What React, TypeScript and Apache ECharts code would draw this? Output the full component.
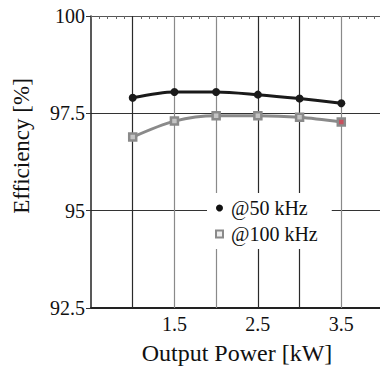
import React, { useEffect, useRef } from "react";
import * as echarts from "echarts";

const powerKW = [1.0, 1.5, 2.0, 2.5, 3.0, 3.5];
const eff50k = [97.9, 98.05, 98.05, 97.98, 97.88, 97.76];
const eff100k = [96.89, 97.3, 97.44, 97.44, 97.4, 97.28];
const xTickLabels = ["1.5", "2.5", "3.5"];
const xGridValues = [1.0, 1.5, 2.0, 2.5, 3.0, 3.5];
const seriesNames = ["@50 kHz", "@100 kHz"];

const FONT = "'Liberation Serif', 'Times New Roman', serif";

export default function App() {
  const ref = useRef<HTMLDivElement>(null);
  useEffect(() => {
    const chart = echarts.init(ref.current!, null, { renderer: "svg" });
    const dark = "#2a2a2a";
    const grey = "#8a8a8a";
    const gridColors = [dark, grey, grey, dark, dark, grey];
    chart.setOption({
      animation: false,
      backgroundColor: "#ffffff",
      textStyle: { fontFamily: FONT },
      grid: { left: 91, top: 16, right: -3, bottom: 61, containLabel: false, outerBoundsMode: "none" },
      legend: {
        orient: "vertical",
        left: 207,
        top: 193,
        padding: [5, 14, 5, 8],
        backgroundColor: "#ffffff",
        itemWidth: 7,
        itemHeight: 7,
        itemGap: 6,
        textStyle: { fontFamily: FONT, fontSize: 20, color: "#111", lineHeight: 20, padding: [0, 0, 0, 3] },
        data: [
          { name: seriesNames[0], icon: "circle", itemStyle: { color: "#111", borderWidth: 0 } },
          { name: seriesNames[1], icon: "rect", itemStyle: { color: "#eeeeee", borderColor: grey, borderWidth: 2 } },
        ],
      },
      xAxis: [
        {
          type: "value",
          min: 0.5,
          max: 4,
          interval: 0.5,
          position: "bottom",
          name: "Output Power [kW]",
          nameLocation: "middle",
          nameGap: 33,
          nameTextStyle: { fontFamily: FONT, fontSize: 24, color: "#111", lineHeight: 24 },
          axisLine: { show: true, lineStyle: { color: "#222", width: 2 } },
          axisTick: { show: false },
          axisLabel: {
            fontFamily: FONT,
            fontSize: 20,
            color: "#111",
            margin: 6,
            formatter: (v: number) => {
              const s = v.toFixed(1);
              return xTickLabels.includes(s) ? s : "";
            },
          },
          splitLine: { show: false },
        },
        {
          type: "value",
          min: 0.5,
          max: 4,
          interval: 0.5,
          position: "top",
          axisLine: { show: true, lineStyle: { color: "#555", width: 1 } },
          axisTick: { show: true, inside: true, length: 3, lineStyle: { color: "#666" } },
          minorTick: { show: true, splitNumber: 5, length: 3, lineStyle: { color: "#666" } },
          axisLabel: { show: false },
          splitLine: { show: false },
        },
      ],
      yAxis: {
        type: "value",
        min: 92.5,
        max: 100,
        interval: 2.5,
        name: "Efficiency [%]",
        nameLocation: "middle",
        nameGap: 58,
        nameTextStyle: { fontFamily: FONT, fontSize: 23, color: "#111", padding: [0, 0, 0, 32] },
        axisLine: { show: true, lineStyle: { color: "#222", width: 1.5 } },
        axisTick: { show: true, inside: false, length: 5, lineStyle: { color: "#333" } },
        axisLabel: {
          fontFamily: FONT,
          fontSize: 20,
          color: "#111",
          margin: 6,
          formatter: (v: number) => (Number.isInteger(v) ? String(v) : v.toFixed(1)),
        },
        splitLine: { show: true, lineStyle: { color: "#333", width: 1.2 } },
      },
      series: [
        {
          name: seriesNames[0],
          type: "line",
          smooth: 0.3,
          data: powerKW.map((x, i) => [x, eff50k[i]]),
          symbol: "circle",
          symbolSize: 8,
          lineStyle: { color: "#1a1a1a", width: 3 },
          itemStyle: { color: "#1a1a1a" },
          z: 3,
          markLine: {
            silent: true,
            symbol: "none",
            label: { show: false },
            z: 1,
            data: xGridValues.map((v, i) => ({
              xAxis: v,
              lineStyle: { color: gridColors[i], width: 1.2, type: "solid" },
            })),
          },
        },
        {
          name: seriesNames[1],
          type: "line",
          smooth: 0.3,
          data: powerKW.map((x, i) => {
            const last = i === powerKW.length - 1;
            return {
              value: [x, eff100k[i]],
              itemStyle: last ? { color: "#c8505e", borderColor: grey, borderWidth: 2.5 } : undefined,
            };
          }),
          symbol: "rect",
          symbolSize: 7,
          lineStyle: { color: grey, width: 3 },
          itemStyle: { color: "#c4c4c4", borderColor: grey, borderWidth: 2.5 },
          z: 2,
        },
      ],
    });
    return () => chart.dispose();
  }, []);
  return <div ref={ref} style={{ position: "absolute", left: 0, top: 0, width: 380, height: 369 }} />;
}
